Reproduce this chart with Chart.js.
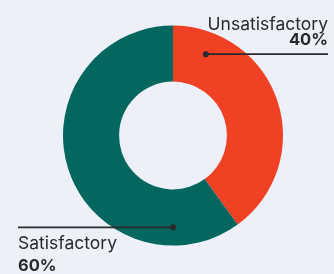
<!DOCTYPE html>
<html><head><meta charset="utf-8">
<script src="https://cdn.jsdelivr.net/npm/chart.js@4"></script>
<style>
html,body{margin:0;padding:0;background:#EDF0F8;}
#wrap{width:334px;height:274px;position:relative;}
</style></head>
<body><div id="wrap"><canvas id="c" width="334" height="274"></canvas></div>
<script>
const categories = ["Unsatisfactory", "Satisfactory"];
const values = [40, 60];
const valueLabels = ["40%", "60%"];
const colors = ["#F04124", "#03675F"];

const labelPlugin = {
  id: 'leaderLabels',
  afterDatasetsDraw(chart) {
    const ctx = chart.ctx;
    const arcs = chart.getDatasetMeta(0).data;
    const a = arcs[0];
    const cx = a.x, cy = a.y, R = a.outerRadius, r = a.innerRadius;
    const mid = (R + r) / 2;
    ctx.save();
    ctx.strokeStyle = '#2a2a2e';
    ctx.fillStyle = '#2a2a2e';
    ctx.lineWidth = 1.8;
    // Unsatisfactory
    const ang1 = 22 * Math.PI / 180;
    const d1x = cx + mid * 1.07 * Math.sin(ang1), d1y = cy - mid * 1.07 * Math.cos(ang1);
    ctx.beginPath(); ctx.moveTo(d1x, d1y); ctx.lineTo(328, d1y); ctx.stroke();
    ctx.beginPath(); ctx.arc(d1x, d1y, 3, 0, Math.PI * 2); ctx.fill();
    // Satisfactory
    const d2x = cx, d2y = cy + mid * 1.12;
    ctx.beginPath(); ctx.moveTo(18, d2y); ctx.lineTo(d2x, d2y); ctx.stroke();
    ctx.beginPath(); ctx.arc(d2x, d2y, 3, 0, Math.PI * 2); ctx.fill();
    // text
    ctx.fillStyle = '#2a2a2e';
    ctx.textBaseline = 'alphabetic';
    ctx.textAlign = 'right';
    ctx.font = '400 17.5px Inter';
    ctx.fillText(categories[0], 328, 30);
    ctx.font = '700 16.5px Inter';
    ctx.fillText(valueLabels[0], 328, 45);
    ctx.textAlign = 'left';
    ctx.font = '400 17.5px Inter';
    ctx.fillText(categories[1], 18, 249);
    ctx.font = '700 16.5px Inter';
    ctx.fillText(valueLabels[1], 18, 271);
    ctx.restore();
  }
};

new Chart(document.getElementById('c'), {
  type: 'doughnut',
  data: {
    labels: categories,
    datasets: [{ data: values, backgroundColor: colors, borderWidth: 0, hoverOffset: 0 }]
  },
  options: {
    responsive: false,
    animation: false,
    cutout: '49%',
    layout: { padding: { top: 25.5, bottom: 28.5, left: 63, right: 51 } },
    plugins: { legend: { display: false }, tooltip: { enabled: false } }
  },
  plugins: [labelPlugin]
});
</script>
</body></html>
